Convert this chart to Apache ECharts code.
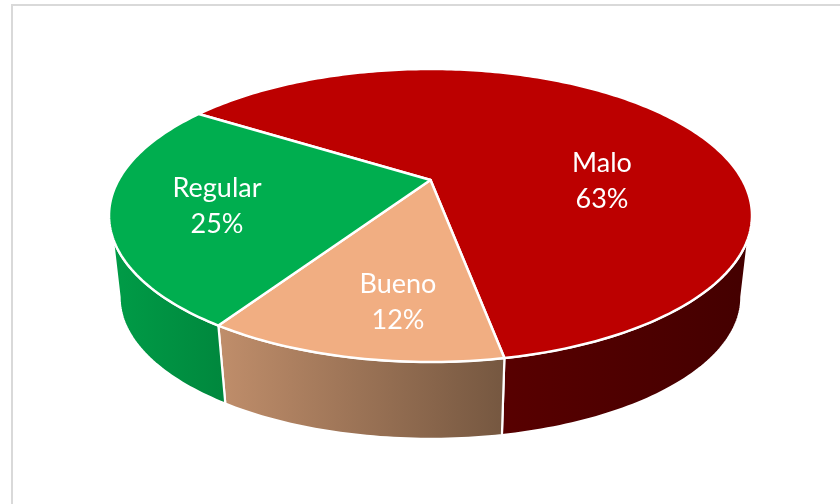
<!DOCTYPE html>
<html>
<head>
<meta charset="utf-8">
<style>html,body{margin:0;padding:0;background:#fff}#chart{width:840px;height:504px}</style>
<script src="https://cdn.jsdelivr.net/npm/echarts@6/dist/echarts.min.js"></script>
</head>
<body>
<div id="chart"></div>
<script>
// Survey result shares, clockwise from the first slice
const categories = ['Malo', 'Bueno', 'Regular'];
const shares = [63, 12, 25];

const topColors = ['#bc0000', '#f1ae82', '#00ae4f'];
const wallGradients = [
  ['#580000', '#440000'],
  ['#c08e6b', '#755740'],
  ['#009c47', '#00873d']
];
const labelCenters = [[602, 181], [398, 302], [217, 206]];

// Tilted-disc projection: unit circle -> ellipse, with the disc centre pushed towards the far rim
const view = { cx: 430.5, cy: 215.5, rx: 321.5, ry: 146.5, tilt: 0.242, firstBearing: 302.8 };
// The lower rim is the upper rim scaled towards a far vanishing point
const depth = { vx: 429, vy: 2691, k: 0.967 };
const rimEndY = 0.15;

const rad = d => d * Math.PI / 180;
function project(bearing, r) {
  const u = r * Math.sin(rad(bearing)), v = -r * Math.cos(rad(bearing));
  const a = view.tilt, d = 1 - a * v;
  return [view.cx + view.rx * u * Math.sqrt(1 - a * a) / d, view.cy + view.ry * (v - a) / d];
}
const lower = p => [depth.vx + depth.k * (p[0] - depth.vx), depth.vy + depth.k * (p[1] - depth.vy)];
// Bearing on the right-hand side of the rim whose ellipse coordinate equals Y
function rimBearing(Y) {
  const v = (Y + view.tilt) / (1 + view.tilt * Y);
  return Math.acos(-v) * 180 / Math.PI;
}
function arc(from, to) {
  const pts = [], n = Math.max(2, Math.ceil(Math.abs(to - from)));
  for (let i = 0; i <= n; i++) pts.push(project(from + (to - from) * i / n, 1));
  return pts;
}

const total = shares.reduce((s, x) => s + x, 0);
let running = view.firstBearing;
const spans = shares.map(s => {
  const from = running, to = running + s / total * 360;
  running = to;
  return [from, to];
});

function wallPoints(from, to) {
  const upperRight = rimBearing(rimEndY), upperLeft = 360 - upperRight;
  const lowerRight = rimBearing(0), lowerLeft = 360 - lowerRight;
  for (const shift of [0, -360]) {
    const a = Math.max(from + shift, upperRight), b = Math.min(to + shift, upperLeft);
    if (b > a) {
      const a2 = a === upperRight ? lowerRight : a;
      const b2 = b === upperLeft ? lowerLeft : b;
      return arc(a, b).concat(arc(a2, b2).map(lower).reverse());
    }
  }
  return null;
}

function renderSlice(params, api) {
  const i = params.dataIndex, span = spans[i];
  const children = [];
  const wall = wallPoints(span[0], span[1]);
  if (wall) {
    children.push({
      type: 'polygon', z2: 1, shape: { points: wall },
      style: {
        fill: new echarts.graphic.LinearGradient(0, 0, 1, 0, [
          { offset: 0, color: wallGradients[i][0] },
          { offset: 1, color: wallGradients[i][1] }
        ]),
        stroke: '#fff', lineWidth: 2.2, lineJoin: 'round'
      }
    });
  }
  children.push({
    type: 'polygon', z2: 5,
    shape: { points: [project(0, 0)].concat(arc(span[0], span[1])) },
    style: { fill: topColors[i], stroke: '#fff', lineWidth: 2.5, lineJoin: 'round' }
  });
  children.push({
    type: 'text', z2: 10,
    style: {
      x: labelCenters[i][0], y: labelCenters[i][1],
      text: categories[i] + '\n' + api.value(0) + '%',
      fill: '#fff', font: '27px Lato', lineHeight: 36,
      align: 'center', verticalAlign: 'middle'
    }
  });
  return { type: 'group', children };
}

const chart = echarts.init(document.getElementById('chart'), null, { renderer: 'canvas' });
chart.setOption({
  animation: false,
  backgroundColor: '#fff',
  graphic: [{
    type: 'rect', silent: true,
    shape: { x: 12, y: 5, width: 900, height: 600 },
    style: { fill: 'none', stroke: '#d9d9d9', lineWidth: 2 }
  }],
  series: [{
    type: 'custom',
    coordinateSystem: 'none',
    renderItem: renderSlice,
    data: shares.map(v => [v]),
    clip: false
  }]
});
</script>
</body>
</html>
